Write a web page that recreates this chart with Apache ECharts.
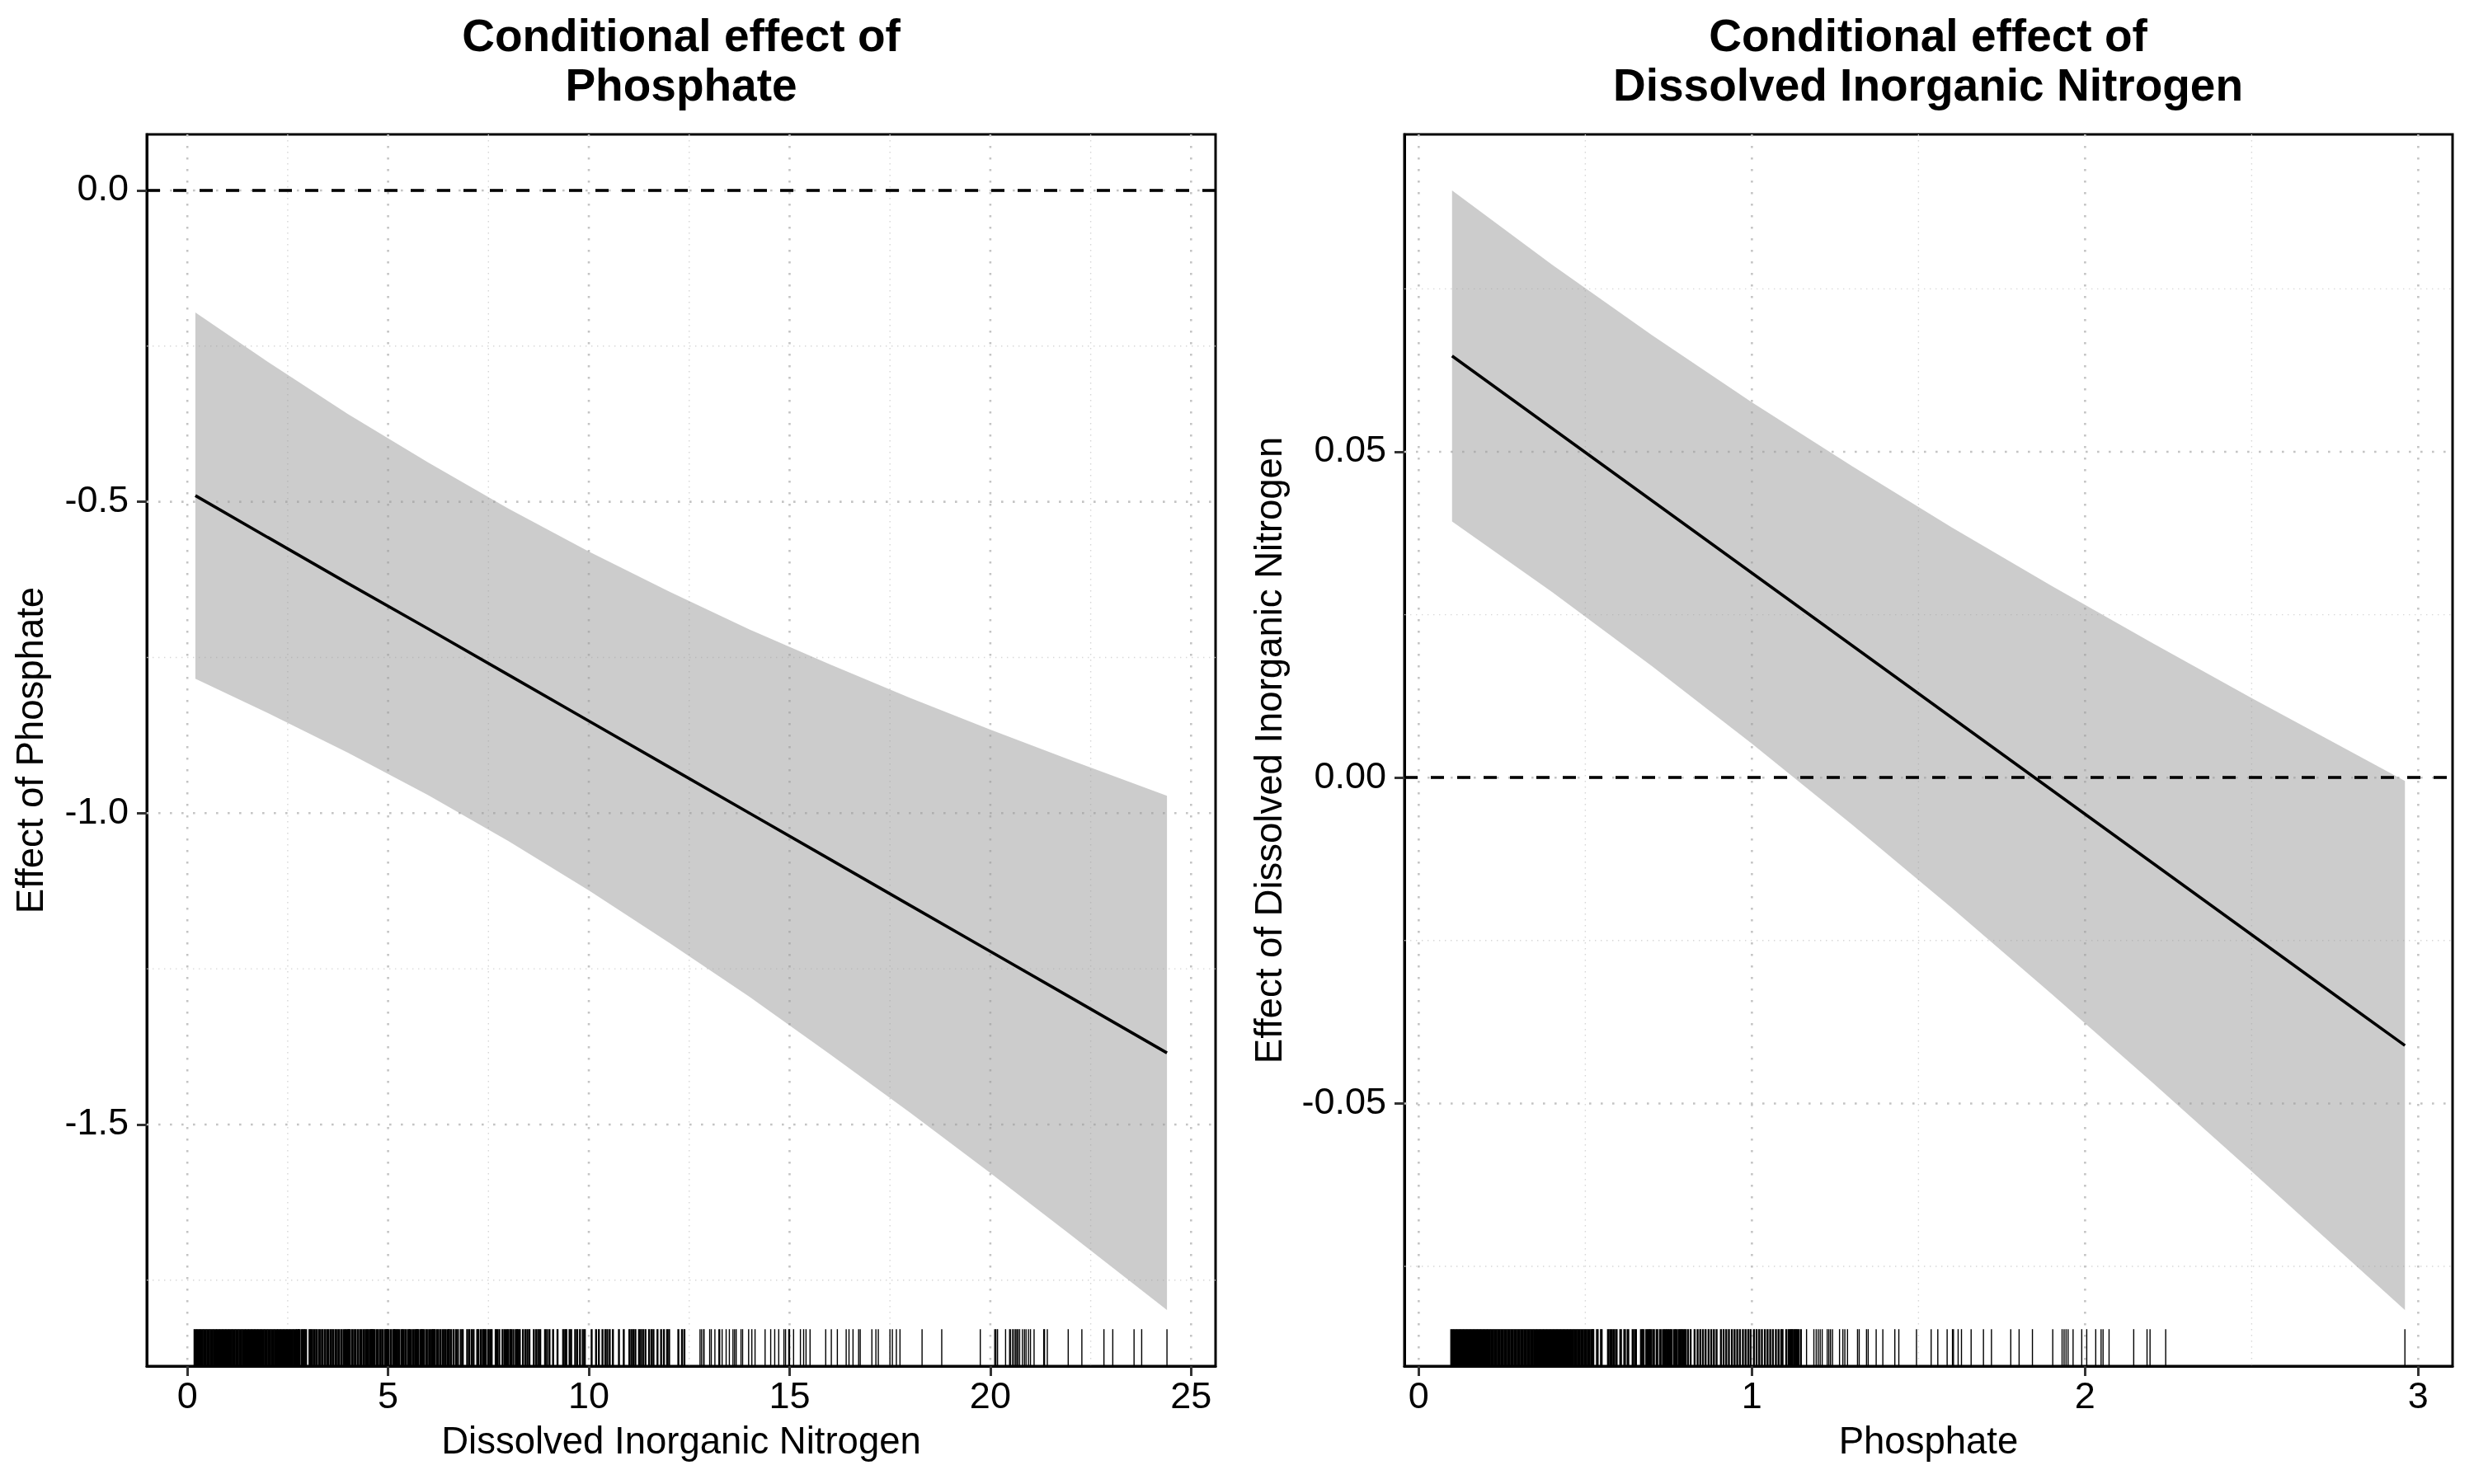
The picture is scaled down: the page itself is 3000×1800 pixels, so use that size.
<!DOCTYPE html>
<html>
<head>
<meta charset="utf-8">
<script src="https://cdn.jsdelivr.net/npm/echarts@6/dist/echarts.min.js"></script>
<style>
html,body{margin:0;padding:0;background:#ffffff;}
#chart{width:3000px;height:1800px;}
</style>
</head>
<body>
<div id="chart"></div>
<script>
// ---------------- Data ----------------
// Left panel: conditional effect of Phosphate across Dissolved Inorganic Nitrogen
const dinX     = [0.2, 2, 4, 6, 8, 10, 12, 14, 16, 18, 20, 22, 24.4];
const dinFit   = [-0.490, -0.557, -0.631, -0.704, -0.778, -0.852, -0.926, -1.000, -1.074, -1.148, -1.222, -1.296, -1.385];
const dinUpper = [-0.196, -0.275, -0.359, -0.437, -0.511, -0.580, -0.644, -0.705, -0.761, -0.815, -0.866, -0.915, -0.972];
const dinLower = [-0.784, -0.839, -0.903, -0.971, -1.045, -1.124, -1.208, -1.295, -1.387, -1.481, -1.578, -1.677, -1.798];

// Right panel: conditional effect of DIN across Phosphate
const phosX     = [0.1, 0.4, 0.7, 1.0, 1.3, 1.6, 1.9, 2.2, 2.5, 2.8, 2.96];
const phosFit   = [0.0647, 0.0536, 0.0425, 0.0314, 0.0203, 0.0092, -0.0019, -0.0130, -0.0241, -0.0352, -0.0411];
const phosUpper = [0.0901, 0.0787, 0.0679, 0.0576, 0.0478, 0.0384, 0.0294, 0.0207, 0.0122, 0.0039, -0.0005];
const phosLower = [0.0393, 0.0285, 0.0171, 0.0052, -0.0072, -0.0200, -0.0332, -0.0467, -0.0604, -0.0743, -0.0817];

// Rug marks (observed moderator values); dense runs appear solid black
const dinRugDense = [0.20, 0.28, 0.36, 0.44, 0.52, 0.60, 0.68, 0.76, 0.84, 0.92, 1.00, 1.08, 1.16, 1.24, 1.32,
  1.40, 1.48, 1.56, 1.64, 1.72, 1.80, 1.88, 1.96, 2.04, 2.12, 2.20, 2.28, 2.36, 2.44, 2.52, 2.60, 2.68, 2.75];
const dinRugBusy = [2.78, 2.85, 2.90, 2.95, 3.05, 3.10, 3.16, 3.22, 3.29, 3.36, 3.43, 3.50, 3.57, 3.63, 3.70, 3.77,
  3.84, 3.91, 3.96, 4.01, 4.04, 4.11, 4.18, 4.25, 4.32, 4.39, 4.45, 4.50, 4.56, 4.59, 4.62, 4.66, 4.73, 4.80, 4.86,
  4.93, 4.97, 5.00, 5.07, 5.14, 5.17, 5.22, 5.27, 5.34, 5.38, 5.44, 5.51, 5.55, 5.62, 5.68, 5.72, 5.75, 5.82, 5.85,
  5.89, 5.96, 6.03, 6.09, 6.13, 6.16, 6.23, 6.30, 6.37, 6.43, 6.50];
const dinRugMid = [6.52, 6.57, 6.63, 6.69, 6.74, 6.81, 6.86, 6.97, 7.02, 7.08, 7.13, 7.22, 7.25, 7.31, 7.36,
  7.39, 7.43, 7.49, 7.54, 7.58, 7.68, 7.72, 7.77, 7.85, 7.90, 7.95, 7.99, 8.04, 8.07, 8.12, 8.18, 8.21, 8.24, 8.28,
  8.36, 8.42, 8.47, 8.52, 8.63, 8.69, 8.74, 8.79, 8.91, 8.96, 9.02, 9.11, 9.22, 9.36, 9.41, 9.44, 9.52, 9.56, 9.66,
  9.71, 9.78, 9.85, 9.90, 10.07, 10.18, 10.25, 10.34, 10.41, 10.46, 10.52, 10.60, 10.75, 10.87, 11.01, 11.06, 11.11,
  11.16, 11.25, 11.30, 11.35, 11.41, 11.50, 11.56, 11.61, 11.71, 11.80, 11.87, 11.95, 12.00, 12.23, 12.32, 12.38];
const dinRugSparse = [12.77, 12.81, 12.86, 12.87, 13.01, 13.05, 13.14, 13.24, 13.26, 13.32, 13.42, 13.50, 13.59,
  13.63, 13.67, 13.79, 13.83, 13.98, 14.06, 14.14, 14.39, 14.53, 14.63, 14.73, 14.86, 14.90, 14.98, 15.00, 15.10,
  15.27, 15.35, 15.41, 15.51, 15.90, 16.04, 16.19, 16.41, 16.48, 16.58, 16.72, 16.76, 17.05, 17.15, 17.21, 17.50,
  17.56, 17.66, 17.75, 18.30, 18.79, 19.75, 20.11, 20.14, 20.18, 20.38, 20.48, 20.50, 20.55, 20.59, 20.63, 20.66,
  20.69, 20.73, 20.80, 20.85, 20.89, 20.95, 21.00, 21.09, 21.33, 21.35, 21.42, 21.94, 22.28, 22.83, 23.05, 23.58,
  23.77, 24.40];

const phosRugDense = [0.10, 0.11, 0.12, 0.13, 0.14, 0.15, 0.16, 0.17, 0.18, 0.19, 0.20, 0.21, 0.22, 0.23, 0.24,
  0.25, 0.26, 0.27, 0.28, 0.29, 0.30, 0.31, 0.32, 0.33, 0.34, 0.35, 0.36, 0.37, 0.38, 0.39, 0.40, 0.41, 0.42,
  0.43, 0.44, 0.45, 0.46, 0.47, 0.48, 0.49, 0.50, 0.51, 0.52];
const phosRugBusy = [0.523, 0.536, 0.548, 0.569, 0.577, 0.585, 0.593, 0.606, 0.618, 0.628, 0.643, 0.651, 0.668,
  0.674, 0.684, 0.691, 0.697, 0.705, 0.715, 0.725, 0.734, 0.740, 0.746, 0.752, 0.758, 0.767, 0.773, 0.781, 0.787,
  0.793, 0.800];
const phosRugMid = [0.808, 0.816, 0.828, 0.837, 0.845, 0.853, 0.861, 0.870, 0.878, 0.886, 0.894, 0.907, 0.915, 0.923,
  0.931, 0.940, 0.948, 0.956, 0.964, 0.973, 0.981, 0.989, 0.996, 1.006, 1.014, 1.022, 1.030, 1.039, 1.047, 1.055,
  1.063, 1.072, 1.080, 1.088, 1.092, 1.103, 1.110, 1.115, 1.119, 1.122, 1.127, 1.131, 1.135, 1.140, 1.147];
const phosRugSparse = [1.164,
  1.186, 1.193, 1.199, 1.205, 1.211, 1.226, 1.231, 1.236, 1.242, 1.263, 1.273, 1.279, 1.287, 1.317, 1.322, 1.344,
  1.349, 1.373, 1.393, 1.429, 1.441, 1.494, 1.538, 1.558, 1.586, 1.602, 1.605, 1.619, 1.629, 1.658, 1.695, 1.719,
  1.777, 1.802, 1.842, 1.903, 1.931, 1.937, 1.943, 1.949, 1.964, 1.990, 2.005, 2.032, 2.048, 2.054, 2.072, 2.146,
  2.186, 2.195, 2.242, 2.960];

// Axis ticks / gridline breaks
const dinTicksX   = [0, 5, 10, 15, 20, 25];
const dinMinorX   = [2.5, 7.5, 12.5, 17.5, 22.5];
const dinTicksY   = [-1.5, -1.0, -0.5, 0.0];
const dinMinorY   = [-1.75, -1.25, -0.75, -0.25];
const phosTicksX  = [0, 1, 2, 3];
const phosMinorX  = [0.5, 1.5, 2.5];
const phosTicksY  = [-0.05, 0.00, 0.05];
const phosMinorY  = [-0.075, -0.025, 0.025, 0.075];

const titles = ['Conditional effect of\nPhosphate', 'Conditional effect of\nDissolved Inorganic Nitrogen'];
const xNames = ['Dissolved Inorganic Nitrogen', 'Phosphate'];
const yNames = ['Effect of Phosphate', 'Effect of Dissolved Inorganic Nitrogen'];

// ---------------- Rendering helpers ----------------
const FONT = "'Liberation Sans', Arial, Helvetica, sans-serif";
const majorStyle = { stroke: '#c4c4c4', lineWidth: 2.6, lineDash: [2.6, 11.4] };
const minorStyle = { stroke: '#d6d6d6', lineWidth: 1.4, lineDash: [1.4, 5.6] };

function vGridItem(style) {
  return function (params, api) {
    const cs = params.coordSys;
    const x = api.coord([api.value(0), api.value(1)])[0];
    return { type: 'line', shape: { x1: x, y1: cs.y, x2: x, y2: cs.y + cs.height }, style: style, silent: true };
  };
}
function hGridItem(style) {
  return function (params, api) {
    const cs = params.coordSys;
    const y = api.coord([api.value(0), api.value(1)])[1];
    return { type: 'line', shape: { x1: cs.x, y1: y, x2: cs.x + cs.width, y2: y }, style: style, silent: true };
  };
}
function rugItem(width) {
  return function (params, api) {
    const cs = params.coordSys;
    const x = api.coord([api.value(0), api.value(1)])[0];
    const yb = cs.y + cs.height;
    return { type: 'line', shape: { x1: x, y1: yb, x2: x, y2: yb - cs.height * 0.03 },
             style: { stroke: '#000', lineWidth: width }, silent: true };
  };
}
function ribbonItem(xs, lo, hi) {
  return function (params, api) {
    if (params.dataIndex !== 0) return;
    const pts = [];
    for (let i = 0; i < xs.length; i++) pts.push(api.coord([xs[i], hi[i]]));
    for (let i = xs.length - 1; i >= 0; i--) pts.push(api.coord([xs[i], lo[i]]));
    return { type: 'polygon', shape: { points: pts }, style: { fill: 'rgba(153,153,153,0.5)' }, silent: true };
  };
}

function panelSeries(idx, xs, fit, lo, hi, majX, minX, majY, minY, rugs, yMid) {
  const common = { xAxisIndex: idx, yAxisIndex: idx, animation: false, silent: true };
  const out = [
    Object.assign({ type: 'custom', z: 1, renderItem: vGridItem(minorStyle), data: minX.map(v => [v, yMid]) }, common),
    Object.assign({ type: 'custom', z: 1, renderItem: hGridItem(minorStyle), data: minY.map(v => [xs[0], v]) }, common),
    Object.assign({ type: 'custom', z: 1, renderItem: vGridItem(majorStyle), data: majX.map(v => [v, yMid]) }, common),
    Object.assign({ type: 'custom', z: 1, renderItem: hGridItem(majorStyle), data: majY.map(v => [xs[0], v]) }, common),
    Object.assign({ type: 'custom', z: 2, renderItem: ribbonItem(xs, lo, hi),
      data: xs.map((x, i) => [x, lo[i], hi[i]]) }, common),
    Object.assign({ type: 'line', z: 3, symbol: 'none', data: xs.map((x, i) => [x, fit[i]]),
      lineStyle: { color: '#000', width: 3.6 },
      markLine: { silent: true, symbol: 'none', animation: false, label: { show: false },
        lineStyle: { color: '#000', width: 3.6, type: [16, 16] }, data: [{ yAxis: 0 }] } }, common)
  ];
  const widths = [4.4, 3.2, 2.4, 1.4];
  rugs.forEach((r, k) => {
    out.push(Object.assign({ type: 'custom', z: 4, renderItem: rugItem(widths[k]), data: r.map(v => [v, yMid]) }, common));
  });
  return out;
}

function xAxisCfg(idx, min, max, ticks, name, dec) {
  return {
    type: 'value', gridIndex: idx, min: min, max: max,
    name: name, nameLocation: 'middle', nameGap: 70,
    nameTextStyle: { fontSize: 45.5, fontFamily: FONT, color: '#000' },
    axisLine: { show: true, onZero: false, lineStyle: { color: '#000', width: 3 } },
    axisTick: { show: true, inside: false, length: 12, lineStyle: { color: '#333', width: 3 }, customValues: ticks },
    axisLabel: { show: true, margin: 16, fontSize: 45, fontFamily: FONT, color: '#000',
      customValues: ticks, formatter: v => Number(v).toFixed(dec) },
    splitLine: { show: false }, minorSplitLine: { show: false }
  };
}
function yAxisCfg(idx, min, max, ticks, name, dec, gap) {
  return {
    type: 'value', gridIndex: idx, min: min, max: max,
    name: name, nameLocation: 'middle', nameGap: gap, nameRotate: 90,
    nameTextStyle: { fontSize: 45.5, fontFamily: FONT, color: '#000' },
    axisLine: { show: true, onZero: false, lineStyle: { color: '#000', width: 3 } },
    axisTick: { show: true, inside: false, length: 12, lineStyle: { color: '#333', width: 3 }, customValues: ticks },
    axisLabel: { show: true, margin: 22, fontSize: 45, fontFamily: FONT, color: '#000',
      customValues: ticks, formatter: v => Number(v).toFixed(dec) },
    splitLine: { show: false }, minorSplitLine: { show: false }
  };
}

const chart = echarts.init(document.getElementById('chart'), null, { renderer: 'canvas' });
const option = {
  backgroundColor: '#ffffff',
  animation: false,
  title: [
    { text: titles[0], left: 826, top: 17, textAlign: 'center', padding: 0,
      textStyle: { fontSize: 55, fontWeight: 'bold', fontFamily: FONT, color: '#000', lineHeight: 60 } },
    { text: titles[1], left: 2338, top: 17, textAlign: 'center', padding: 0,
      textStyle: { fontSize: 55, fontWeight: 'bold', fontFamily: FONT, color: '#000', lineHeight: 60 } }
  ],
  grid: [
    { left: 178, top: 163, width: 1296, height: 1494, show: true, borderColor: '#000', borderWidth: 3, backgroundColor: 'transparent', containLabel: false },
    { left: 1703, top: 163, width: 1271, height: 1494, show: true, borderColor: '#000', borderWidth: 3, backgroundColor: 'transparent', containLabel: false }
  ],
  xAxis: [
    xAxisCfg(0, -1.01, 25.61, dinTicksX, xNames[0], 0),
    xAxisCfg(1, -0.043, 3.103, phosTicksX, xNames[1], 0)
  ],
  yAxis: [
    yAxisCfg(0, -1.888, 0.09, dinTicksY, yNames[0], 1, 116),
    yAxisCfg(1, -0.0903, 0.0987, phosTicksY, yNames[1], 2, 139)
  ],
  series: [].concat(
    panelSeries(0, dinX, dinFit, dinLower, dinUpper, dinTicksX, dinMinorX, dinTicksY, dinMinorY,
      [dinRugDense, dinRugBusy, dinRugMid, dinRugSparse], -1.0),
    panelSeries(1, phosX, phosFit, phosLower, phosUpper, phosTicksX, phosMinorX, phosTicksY, phosMinorY,
      [phosRugDense, phosRugBusy, phosRugMid, phosRugSparse], 0.0)
  )
};
chart.setOption(option);
</script>
</body>
</html>
